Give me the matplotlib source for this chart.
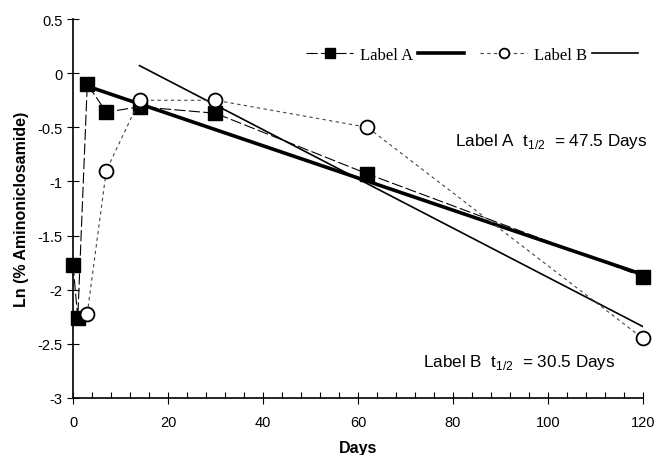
import matplotlib.pyplot as plt
from matplotlib.ticker import MultipleLocator
from matplotlib.lines import Line2D

plt.rcParams['font.family'] = 'Liberation Sans'
plt.rcParams['mathtext.fontset'] = 'custom'
plt.rcParams['mathtext.rm'] = 'Liberation Sans'

# measured data
days_a = [0, 1, 3, 7, 14, 30, 62, 120]
ln_a = [-1.77, -2.26, -0.10, -0.36, -0.31, -0.37, -0.93, -1.88]
days_b = [3, 7, 14, 30, 62, 120]
ln_b = [-2.22, -0.90, -0.25, -0.25, -0.50, -2.45]

# fitted lines (end points)
fit_a_x = [3, 120]
fit_a_y = [-0.12, -1.86]
fit_b_x = [14, 120]
fit_b_y = [0.07, -2.34]

fig = plt.figure(figsize=(6.55, 4.56), dpi=100)
ax = fig.add_axes([0.1115, 0.125, 0.870, 0.831])

la, = ax.plot(days_a, ln_a, color='black', lw=0.8, dashes=(10, 3),
              marker='s', markersize=10, markerfacecolor='black', zorder=4,
              clip_on=False)
lb, = ax.plot(days_b, ln_b, color='#444444', lw=0.8, dashes=(3, 3),
              marker='o', markersize=10, markerfacecolor='white',
              markeredgecolor='black', markeredgewidth=1.3, zorder=5,
              clip_on=False)
fa, = ax.plot(fit_a_x, fit_a_y, color='black', lw=2.6, zorder=3)
fb, = ax.plot(fit_b_x, fit_b_y, color='black', lw=1.2, zorder=3)

ax.text(80.4, -0.62, 'Label A  t$_{1/2}$  = 47.5 Days', fontsize=12.3, va='center')
ax.text(73.7, -2.66, 'Label B  t$_{1/2}$  = 30.5 Days', fontsize=12.3, va='center')

h_a = Line2D([], [], color='black', lw=0.8, dashes=(10, 3), marker='s',
             markersize=7, markerfacecolor='black')
h_fa = Line2D([], [], color='black', lw=2.6)
h_b = Line2D([], [], color='#444444', lw=0.8, dashes=(3, 3), marker='o',
             markersize=7, markerfacecolor='white', markeredgecolor='black',
             markeredgewidth=1.3)
h_fb = Line2D([], [], color='black', lw=1.2)
ax.legend([h_a, h_fa, h_b, h_fb], ['Label A', ' ', 'Label B', ' '], ncol=4,
          frameon=False, loc='center', bbox_to_anchor=(0.71, 0.905),
          prop={'family': 'Liberation Serif', 'size': 12},
          handlelength=2.8, handletextpad=0.4, columnspacing=0.3)

ax.set_xlim(0, 120)
ax.set_ylim(-3, 0.5)
ax.xaxis.set_major_locator(MultipleLocator(20))
ax.xaxis.set_minor_locator(MultipleLocator(4))
ax.set_yticks([0.5, 0, -0.5, -1, -1.5, -2, -2.5, -3])
ax.set_yticklabels(['0.5', '0', '-0.5', '-1', '-1.5', '-2', '-2.5', '-3'])
ax.tick_params(axis='both', which='major', direction='inout', length=8,
               width=0.8, labelsize=10.5)
ax.tick_params(axis='x', which='minor', direction='in', length=4, width=0.8)
ax.tick_params(axis='x', pad=8)
for s in ['top', 'right']:
    ax.spines[s].set_visible(False)
ax.spines['left'].set_linewidth(1.2)
ax.spines['bottom'].set_linewidth(1.2)

ax.set_xlabel('Days', fontsize=11.5, fontweight='bold', labelpad=8)
ax.set_ylabel('Ln (% Aminoniclosamide)', fontsize=11.5, fontweight='bold', labelpad=6)

fig.savefig('out.png', dpi=100)
